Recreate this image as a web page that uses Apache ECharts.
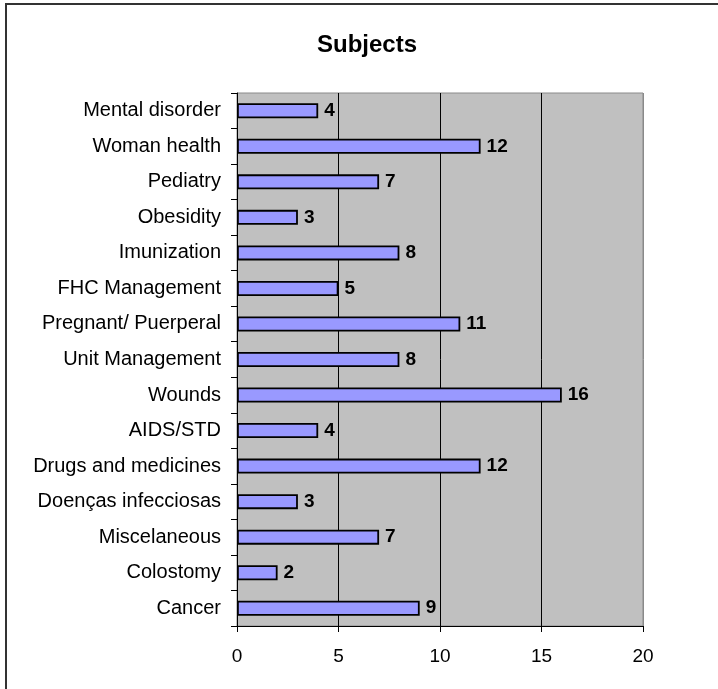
<!DOCTYPE html>
<html>
<head>
<meta charset="utf-8">
<style>
  html, body { margin: 0; padding: 0; background: #fff; }
  #chart { width: 718px; height: 689px; }
</style>
<script src="https://cdn.jsdelivr.net/npm/echarts@6/dist/echarts.min.js"></script>
</head>
<body>
<div id="chart"></div>
<script>
// Subject categories, listed from the bottom of the chart upward
const categories = [
  'Cancer',
  'Colostomy',
  'Miscelaneous',
  'Doenças infecciosas',
  'Drugs and medicines',
  'AIDS/STD',
  'Wounds',
  'Unit Management',
  'Pregnant/ Puerperal',
  'FHC Management',
  'Imunization',
  'Obesidity',
  'Pediatry',
  'Woman health',
  'Mental disorder'
];
// Number of items per subject
const counts = [9, 2, 7, 3, 12, 4, 16, 8, 11, 5, 8, 3, 7, 12, 4];
// Value axis
const xMin = 0;
const xMax = 20;
const xStep = 5;

const FONT = '"Liberation Sans", Arial, sans-serif';

const chart = echarts.init(document.getElementById('chart'), null, { renderer: 'canvas' });

chart.setOption({
  backgroundColor: '#ffffff',
  animation: false,
  title: {
    text: 'Subjects',
    left: 362,
    top: 28,
    textAlign: 'center',
    textStyle: { fontFamily: FONT, fontSize: 24, fontWeight: 'bold', color: '#000' }
  },
  graphic: [{
    type: 'rect',
    shape: { x: 6, y: 4, width: 730, height: 700 },
    style: { fill: 'none', stroke: '#333333', lineWidth: 2 },
    silent: true,
    z: 100
  }],
  grid: {
    left: 237,
    right: 75,
    top: 93,
    bottom: 63,
    show: true,
    backgroundColor: '#C0C0C0',
    borderColor: '#8a8a8a',
    borderWidth: 1
  },
  xAxis: {
    type: 'value',
    min: xMin,
    max: xMax,
    interval: xStep,
    axisLine: { show: true, onZero: false, lineStyle: { color: '#000', width: 1 } },
    axisTick: { show: true, inside: false, length: 6, lineStyle: { color: '#000' } },
    axisLabel: { color: '#000', fontFamily: FONT, fontSize: 19, margin: 21 },
    splitLine: {
      show: true,
      lineStyle: { color: ['#000', '#000', '#000', '#000', '#8a8a8a'], width: 1 }
    }
  },
  yAxis: {
    type: 'category',
    data: categories,
    axisLine: { show: true, lineStyle: { color: '#000', width: 1 } },
    axisTick: { show: true, inside: false, length: 6, lineStyle: { color: '#000' } },
    axisLabel: { color: '#000', fontFamily: FONT, fontSize: 20, margin: 16 },
    splitLine: { show: false }
  },
  series: [{
    type: 'bar',
    data: counts,
    barWidth: 15,
    itemStyle: { color: '#9999FF', borderColor: '#000', borderWidth: 1.8 },
    label: {
      show: true,
      position: 'right',
      distance: 6,
      color: '#000',
      fontFamily: FONT,
      fontSize: 19,
      fontWeight: 'bold'
    }
  }]
});
</script>
</body>
</html>
